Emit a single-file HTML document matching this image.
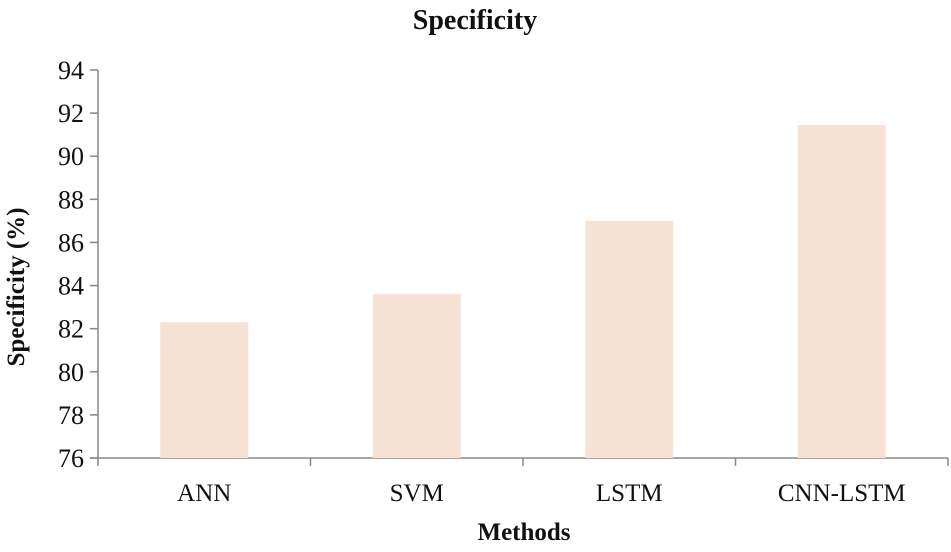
<!DOCTYPE html>
<html><head><meta charset="utf-8"><style>
body{margin:0;background:#fff;}
svg text{font-family:"Liberation Serif",serif;fill:#111;}
</style></head><body>
<svg width="951" height="547" viewBox="0 0 951 547">
<text x="475" y="29" text-anchor="middle" font-size="28" font-weight="bold">Specificity</text>
<g id="yaxis"></g>
<g id="xaxis"></g>
<g id="bars"></g>
<text transform="translate(24,287) rotate(-90)" text-anchor="middle" font-size="25" font-weight="bold">Specificity (%)</text>
<text x="524" y="540" text-anchor="middle" font-size="25" font-weight="bold">Methods</text>
</svg>
<script>
const categories = ["ANN","SVM","LSTM","CNN-LSTM"];
const values = [82.3, 83.6, 87.0, 91.45];
const yTicks = [76,78,80,82,84,86,88,90,92,94];
const NS="http://www.w3.org/2000/svg";
const x0=98,x1=948,yTop=70,yBot=458,yMin=76,yMax=94;
function yS(v){return yBot-(v-yMin)/(yMax-yMin)*(yBot-yTop);}
const bw=(x1-x0)/categories.length;
function xS(i){return x0+bw*(i+0.5);}
function mk(tag,attrs,parent){const e=document.createElementNS(NS,tag);for(const k in attrs)e.setAttribute(k,attrs[k]);parent.appendChild(e);return e;}
const ya=document.getElementById('yaxis'),xa=document.getElementById('xaxis'),bg=document.getElementById('bars');
yTicks.forEach(t=>{
 const l=mk('line',{x1:90,x2:x0,y1:yS(t),y2:yS(t),stroke:'#888','stroke-width':1.5},ya);
 
 
 const tx=mk('text',{x:84,y:yS(t)+9,'text-anchor':'end','font-size':26},ya);
 tx.textContent=t;
 
 
});
categories.forEach((c,i)=>{
 const h=yBot-yS(values[i]);
 const r=mk('rect',{x:xS(i)-44,y:yS(values[i]),width:88,height:h,fill:'#f6e1d5'},bg);
 
 
 const tk=mk('line',{x1:x0+bw*(i+1),x2:x0+bw*(i+1),y1:yBot,y2:yBot+8,stroke:'#888','stroke-width':1.5},xa);
 
 
 const tx=mk('text',{x:xS(i),y:501,'text-anchor':'middle','font-size':25},xa);
 tx.textContent=c;
 
 
});
const la=mk('line',{x1:x0,x2:x0,y1:yTop,y2:yBot+8,stroke:'#888','stroke-width':1.5},ya);


const lb=mk('line',{x1:90,x2:x1,y1:yBot,y2:yBot,stroke:'#888','stroke-width':1.5},xa);


</script>
</body></html>
